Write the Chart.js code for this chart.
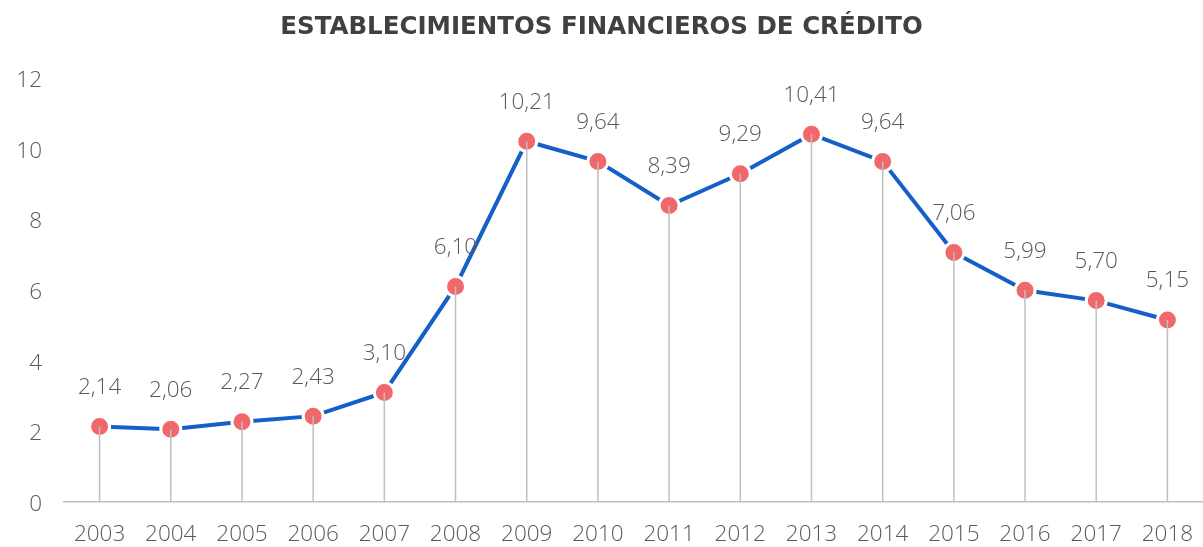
<!DOCTYPE html>
<html>
<head>
<meta charset="utf-8">
<script src="https://cdn.jsdelivr.net/npm/chart.js@4/dist/chart.umd.min.js"></script>
<style>
  html, body { margin: 0; padding: 0; background: #fff; overflow: hidden; }
  #wrap { width: 1203px; height: 547px; position: relative; }
  canvas { display: block; }
</style>
</head>
<body>
<div id="wrap"><canvas id="chart"></canvas></div>
<script>
const years = ['2003', '2004', '2005', '2006', '2007', '2008', '2009', '2010', '2011', '2012', '2013', '2014', '2015', '2016', '2017', '2018'];
const values = [2.14, 2.06, 2.27, 2.43, 3.10, 6.10, 10.21, 9.64, 8.39, 9.29, 10.41, 9.64, 7.06, 5.99, 5.70, 5.15];
const yTicks = [0, 2, 4, 6, 8, 10, 12];

const FONT = "'Open Sans', 'Noto Sans', sans-serif";

// comma decimals, like the source
const fmt = v => v.toFixed(2).replace('.', ',');

// gray drop lines from each point down to the axis + value labels
const dropLines = {
  id: 'dropLines',
  afterDatasetsDraw(chart) {
    const ctx = chart.ctx;
    const meta = chart.getDatasetMeta(0);
    const bottom = chart.scales.y.getPixelForValue(0);
    ctx.save();
    ctx.strokeStyle = '#bfbfbf';
    ctx.lineWidth = 1.5;
    meta.data.forEach(p => {
      ctx.beginPath();
      ctx.moveTo(p.x, p.y);
      ctx.lineTo(p.x, bottom);
      ctx.stroke();
    });
    ctx.fillStyle = '#595959';
    ctx.font = '300 22.5px ' + FONT;
    ctx.textAlign = 'center';
    ctx.textBaseline = 'middle';
    meta.data.forEach((p, i) => {
      ctx.fillText(fmt(values[i]), p.x, p.y - 39);
    });
    ctx.restore();
  }
};

new Chart(document.getElementById('chart'), {
  type: 'line',
  data: {
    labels: years,
    datasets: [{
      data: values,
      borderColor: '#1560c8',
      borderWidth: 4,
      tension: 0,
      pointRadius: 10,
      pointHoverRadius: 10,
      pointBackgroundColor: '#f0686c',
      pointBorderColor: '#ffffff',
      pointBorderWidth: 3
    }]
  },
  options: {
    responsive: true,
    maintainAspectRatio: false,
    animation: false,
    layout: { padding: 0, autoPadding: false },
    plugins: {
      legend: { display: false },
      tooltip: { enabled: false },
      title: {
        display: true,
        text: 'ESTABLECIMIENTOS FINANCIEROS DE CRÉDITO',
        color: '#404040',
        font: { family: "'DejaVu Sans', sans-serif", size: 24.5, weight: 'bold', lineHeight: 1.2 },
        padding: { top: 13, bottom: 35.6 }
      }
    },
    scales: {
      x: {
        offset: true,
        grid: { display: false, drawTicks: false },
        border: { display: true, color: '#bfbfbf', width: 1.5 },
        ticks: { color: '#595959', font: { family: FONT, size: 22.5, weight: 300 }, padding: 19, maxRotation: 0 },
        afterFit: s => { s.height = 45; s.paddingLeft = 0; s.paddingRight = 0; }
      },
      y: {
        min: 0,
        max: 12,
        afterBuildTicks: s => { s.ticks = yTicks.map(v => ({ value: v })); },
        grid: { display: false, drawTicks: false },
        border: { display: false },
        ticks: { color: '#595959', font: { family: FONT, size: 22.5, weight: 300 }, padding: 22, labelOffset: 2.5 },
        afterFit: s => { s.width = 64; s.paddingTop = 0; s.paddingBottom = 0; }
      }
    }
  },
  plugins: [dropLines]
});
</script>
</body>
</html>
